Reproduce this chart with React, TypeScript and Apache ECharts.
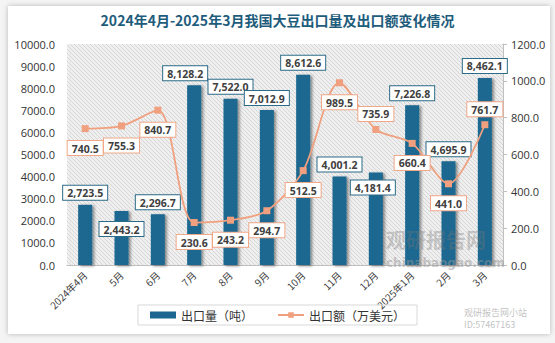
import React, { useEffect, useRef } from "react";
import * as echarts from "echarts";

const categories = ["2024年4月", "5月", "6月", "7月", "8月", "9月", "10月", "11月", "12月", "2025年1月", "2月", "3月"];
const exportVolume = [2723.5, 2443.2, 2296.7, 8128.2, 7522.0, 7012.9, 8612.6, 4001.2, 4181.4, 7226.8, 4695.9, 8462.1];
const exportValue = [740.5, 755.3, 840.7, 230.6, 243.2, 294.7, 512.5, 989.5, 735.9, 660.4, 441.0, 761.7];
const leftTicks = { min: 0, max: 10000, interval: 1000 };
const rightTicks = { min: 0, max: 1200, interval: 200 };
const seriesNames = ["出口量（吨）", "出口额（万美元）"];
const titleText = "2024年4月-2025年3月我国大豆出口量及出口额变化情况";

// label placement tweaks (not data)
const barLabelOffsets: [number, number][] = [
  [0, 0], [0, 30], [0, 0], [-9, 0], [0, 0], [0, 0], [0, 0], [0, 0], [-3, 27], [0, 0], [0, 0], [0, 0],
];
const lineLabelAbove = [false, false, false, false, false, false, false, false, true, false, false, true];

const BAR = "#1b6790";
const LINE = "#f0a07e";
const GRID = { left: 67, right: 52, top: 44, bottom: 78 };
const W = 555;
const H = 343;

const fmtThousands = (v: number) =>
  v.toLocaleString("en-US", { minimumFractionDigits: 1, maximumFractionDigits: 1 });

function hatchLines(x: number, y: number, w: number, h: number, gap: number, color: string) {
  const out: any[] = [];
  for (let k = -h; k < w; k += gap) {
    const y1 = Math.max(0, -k);
    const y2 = Math.min(h, w - k);
    if (y2 > y1) {
      out.push({
        type: "line",
        silent: true,
        shape: { x1: x + k + y1, y1: y + y1, x2: x + k + y2, y2: y + y2 },
        style: { stroke: color, lineWidth: 1 },
      });
    }
  }
  return out;
}

export default function App() {
  const ref = useRef<HTMLDivElement>(null);
  useEffect(() => {
    if (!ref.current) return;
    const chart = echarts.init(ref.current, null, { renderer: "svg" });
    const labelFont = "Open Sans";
    const plotW = W - GRID.left - GRID.right;
    const plotH = H - GRID.top - GRID.bottom;
    chart.setOption({
      animation: false,
      backgroundColor: "transparent",
      textStyle: { fontFamily: "'Noto Sans CJK SC', 'Open Sans', sans-serif" },
      title: {
        text: titleText,
        left: "center",
        top: 8,
        textStyle: { fontSize: 14, fontWeight: "bold", color: "#1e5c7c", fontFamily: "'Noto Sans CJK SC'" },
      },
      grid: { ...GRID, show: true, borderWidth: 0, backgroundColor: "#efefef" },
      legend: {
        bottom: 18,
        left: "center",
        padding: [4, 12, 4, 12],
        borderColor: "#d9d9d9",
        borderWidth: 1,
        itemGap: 24,
        itemWidth: 26,
        itemHeight: 7,
        textStyle: { fontSize: 12, color: "#333" },
        data: [
          { name: seriesNames[0], icon: "rect" },
          { name: seriesNames[1] },
        ],
      },
      xAxis: {
        type: "category",
        data: categories,
        axisLine: { lineStyle: { color: "#bfbfbf" } },
        axisTick: { show: false },
        axisLabel: { rotate: 45, fontSize: 10, color: "#404040", margin: 8 },
      },
      yAxis: [
        {
          type: "value",
          ...leftTicks,
          splitLine: { show: false },
          axisLine: { show: false },
          axisTick: { show: false },
          axisLabel: { formatter: (v: number) => v.toFixed(1), fontSize: 11, color: "#333", margin: 12, fontFamily: labelFont },
        },
        {
          type: "value",
          ...rightTicks,
          position: "right",
          splitLine: { show: false },
          axisLine: { show: true, lineStyle: { color: "#bfbfbf" } },
          axisTick: { show: true, inside: false, length: 4, lineStyle: { color: "#bfbfbf" } },
          axisLabel: { formatter: (v: number) => v.toFixed(1), fontSize: 11, color: "#333", margin: 8, fontFamily: labelFont },
        },
      ],
      series: [
        {
          name: seriesNames[0],
          type: "bar",
          yAxisIndex: 0,
          barWidth: 14,
          itemStyle: {
            color: BAR,
            shadowColor: "rgba(0,0,0,0.45)",
            shadowBlur: 3,
            shadowOffsetX: 2,
            shadowOffsetY: 1,
          },
          data: exportVolume.map((v, i) => ({
            value: v,
            label: { offset: barLabelOffsets[i] },
          })),
          label: {
            show: true,
            position: "top",
            distance: 5,
            formatter: (p: any) => fmtThousands(p.value),
            fontSize: 10.5,
            fontWeight: "bold",
            color: "#404040",
            fontFamily: labelFont,
            backgroundColor: "#ffffff",
            borderColor: "#2c6b88",
            borderWidth: 1,
            padding: [2, 4, 1, 4],
          },
          z: 2,
        },
        {
          name: seriesNames[1],
          type: "line",
          yAxisIndex: 1,
          smooth: 0.3,
          symbol: "rect",
          symbolSize: 7,
          lineStyle: { color: LINE, width: 1.8 },
          itemStyle: { color: LINE },
          data: exportValue.map((v, i) => ({
            value: v,
            label: lineLabelAbove[i] ? { position: "top", distance: 5 } : { position: "bottom", distance: 9 },
          })),
          label: {
            show: true,
            formatter: (p: any) => Number(p.value).toFixed(1),
            fontSize: 10.5,
            fontWeight: "bold",
            color: "#404040",
            fontFamily: labelFont,
            backgroundColor: "#ffffff",
            borderColor: "#f0a888",
            borderWidth: 1,
            padding: [2, 4, 1, 4],
          },
          z: 3,
        },
      ],
      graphic: [
        {
          type: "group",
          silent: true,
          z: 0,
          children: hatchLines(GRID.left, GRID.top, plotW, plotH, 4, "#d6d6d6"),
        },
        {
          type: "text",
          left: 386,
          top: 229,
          silent: true,
          z: 10,
          style: { text: "观研报告网", fontSize: 20, fontWeight: "bold", fill: "rgba(120,120,120,0.35)", fontFamily: "'Noto Sans CJK SC'" },
        },
        {
          type: "text",
          left: 386,
          top: 257,
          silent: true,
          z: 10,
          style: { text: "chinabaogao.com", fontSize: 12, fontWeight: "bold", fill: "rgba(150,150,150,0.5)", fontFamily: "'DejaVu Sans'" },
        },
        {
          type: "text",
          left: 464,
          top: 306,
          silent: true,
          z: 10,
          style: { text: "观研报告网小站\nID:57467163", fontSize: 9, lineHeight: 12, fill: "rgba(150,150,150,0.6)", fontFamily: "'Noto Sans CJK SC'" },
        },
      ],
    });
    return () => chart.dispose();
  }, []);
  return (
    <div style={{ position: "absolute", left: 0, top: 0, width: W, height: H, background: "#f4f4f4" }}>
      <div
        style={{
          position: "absolute",
          left: 8,
          top: 6,
          width: 542,
          height: 328,
          background: "#ffffff",
          boxShadow: "0 0 5px rgba(0,0,0,0.25)",
        }}
      />
      <div ref={ref} style={{ position: "absolute", left: 0, top: 0, width: W, height: H }} />
    </div>
  );
}
